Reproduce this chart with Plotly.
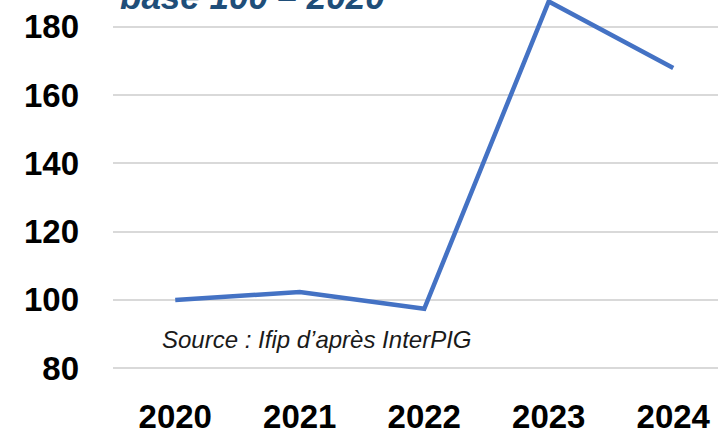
import plotly.graph_objects as go

years = ["2020", "2021", "2022", "2023", "2024"]
index_values = [100, 102.3, 97.4, 187.4, 167.9]
y_ticks = [80, 100, 120, 140, 160, 180]
title_text = "base 100 – 2020"
source_text = "Source : Ifip d’après InterPIG"

W, H = 718, 431
left, top, bottom = 113, 0, 51
plot_h = H - top - bottom
px_per_unit = 68.3 / 20
y_top = 180 + 26.7 / px_per_unit
y_bot = y_top - plot_h / px_per_unit
x_right = (W - left) / 124.5 - 0.5

fig = go.Figure()
fig.add_trace(go.Scatter(
    x=years, y=index_values, mode="lines",
    line=dict(color="#4472C4", width=4.5),
    showlegend=False, hoverinfo="skip",
))

tick_font = dict(size=33, family="Liberation Sans, Arial", color="black", weight="bold")

fig.update_layout(
    width=W, height=H,
    margin=dict(l=left, r=0, t=top, b=bottom, autoexpand=False),
    paper_bgcolor="white", plot_bgcolor="white",
    font=dict(family="Liberation Sans, Arial, sans-serif", color="black"),
    xaxis=dict(
        type="category", range=[-0.5, x_right], automargin=False,
        showgrid=False, zeroline=False, showline=False,
        tickfont=tick_font, ticklabelstandoff=14,
    ),
    yaxis=dict(
        range=[y_bot, y_top], tickvals=y_ticks, automargin=False,
        showgrid=True, gridcolor="#D9D9D9", gridwidth=1.5,
        zeroline=False, showline=False,
        tickfont=tick_font, ticklabelstandoff=33,
    ),
    annotations=[
        dict(text=f"<b><i>{title_text}</i></b>", xref="paper", yref="paper",
             x=(118 - left) / (W - left), y=1.0, xanchor="left", yanchor="middle",
             yshift=4, showarrow=False,
             font=dict(size=35, color="#1F4E79", family="Liberation Sans, Arial")),
        dict(text=f"<i>{source_text}</i>", xref="paper", yref="y",
             x=(160 - left) / (W - left), y=(368 - 339) / px_per_unit + 80,
             xanchor="left", yanchor="middle", showarrow=False,
             font=dict(size=24, color="#1a1a1a", family="Liberation Sans, Arial")),
    ],
)

fig.write_html("out.html", config={"displayModeBar": False},
               post_script="document.body.style.margin='0';")
